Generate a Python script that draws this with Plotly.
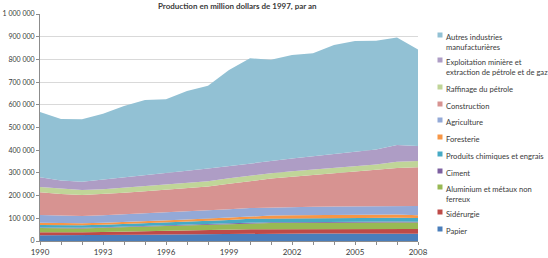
import plotly.graph_objects as go

years = list(range(1990, 2009))

# values in thousands of 1997 dollars
papier = [25, 25, 25, 26, 27, 28, 29, 30, 31, 32, 33, 33, 33, 33, 33, 33, 33, 33, 32]
siderurgie = [14, 13, 13, 14, 15, 16, 16, 17, 17, 18, 19, 19, 19, 20, 20, 20, 20, 21, 21]
aluminium = [18, 17, 17, 18, 19, 20, 21, 22, 23, 24, 26, 27, 27, 27, 27, 28, 28, 28, 28]
ciment = [3, 3, 3, 3, 3, 3, 3, 3, 4, 4, 4, 4, 4, 4, 4, 4, 4, 4, 4]
chimiques = [11, 11, 11, 11, 11, 12, 13, 13, 14, 15, 16, 16, 16, 16, 16, 16, 16, 16, 16]
foresterie = [9, 9, 9, 8, 8, 8, 9, 10, 10, 11, 12, 13, 14, 14, 15, 14, 15, 15, 12]
agriculture = [35, 34, 32, 33, 34, 35, 36, 36, 36, 36, 35, 36, 37, 37, 37, 38, 37, 37, 41]
construction = [100, 95, 93, 94, 96, 97, 98, 101, 105, 112, 120, 127, 133, 140, 147, 153, 160, 168, 171]
raffinage = [23, 23, 22, 21, 22, 22, 22, 22, 23, 24, 24, 24, 24, 24, 24, 24, 24, 27, 27]
exploitation = [43, 36, 36, 42, 47, 49, 51, 55, 56, 54, 55, 54, 56, 58, 60, 63, 66, 74, 66]
autres = [287, 271, 275, 291, 313, 331, 327, 352, 365, 423, 461, 445, 456, 454, 480, 488, 479, 474, 426]

series = [
    ("Papier", papier, "#4A7EBB"),
    ("Sidérurgie", siderurgie, "#BE4B48"),
    ("Aluminium et métaux non<br>ferreux", aluminium, "#98B954"),
    ("Ciment", ciment, "#7D60A0"),
    ("Produits chimiques et engrais", chimiques, "#46AAC5"),
    ("Foresterie", foresterie, "#F79646"),
    ("Agriculture", agriculture, "#93A9D7"),
    ("Construction", construction, "#D79391"),
    ("Raffinage du pétrole", raffinage, "#C0D598"),
    ("Exploitation minière et<br>extraction de pétrole et de gaz", exploitation, "#AE9DC5"),
    ("Autres industries<br>manufacturières", autres, "#92C1D4"),
]

# legend rows (pixel y of first line), top to bottom = reversed series
legend_y = [229, 212, 187, 171, 154, 137, 120, 104, 87, 60, 35]

W, H = 548, 258
L, R, T, B = 40, 130, 14, 17
pw, ph = W - L - R, H - T - B

fig = go.Figure()
for name, vals, col in series:
    fig.add_trace(go.Scatter(
        x=years, y=[v * 1000 for v in vals], name=name.replace("<br>", " "),
        mode="lines", stackgroup="one", line=dict(width=0, color=col),
        fillcolor=col, showlegend=False))

txtcol = "#3A3A3A"
for (name, vals, col), py in zip(series, legend_y):
    yc = (H - B - py) / ph
    xm = (440 - L) / pw
    fig.add_shape(type="rect", xref="paper", yref="paper",
                  x0=xm - 2.5 / pw, x1=xm + 2.5 / pw,
                  y0=yc - 2.5 / ph, y1=yc + 2.5 / ph,
                  fillcolor=col, line=dict(width=0))
    fig.add_annotation(xref="paper", yref="paper", x=(444 - L) / pw,
                       y=yc + 5.5 / ph, xanchor="left", yanchor="top",
                       text=name, showarrow=False, align="left",
                       font=dict(family="Lato", size=7.6, color=txtcol))

fig.update_layout(
    width=W, height=H,
    margin=dict(l=L, r=R, t=T, b=B, autoexpand=False),
    paper_bgcolor="white", plot_bgcolor="white",
    font=dict(family="Lato", size=8, color=txtcol),
    separators=", ",
    showlegend=False,
    title=dict(text="<b>Production en million dollars de 1997, par an</b>",
               x=0.433, xanchor="center", y=0.975, yanchor="middle",
               font=dict(family="Lato", size=8, color=txtcol)),
)
fig.update_xaxes(range=[1990, 2008], tickvals=list(range(1990, 2009, 3)),
                 ticks="outside", ticklen=3, tickcolor="#8C8C8C", automargin=False,
                 showline=True, linecolor="#8C8C8C", showgrid=False,
                 minor=dict(dtick=1, tick0=1990, ticks="outside", ticklen=3, tickcolor="#8C8C8C"),
                 tickfont=dict(family="Lato", size=8, color=txtcol))
fig.update_yaxes(range=[0, 1000000], dtick=100000, tickformat=",d", automargin=False,
                 showgrid=True, gridcolor="#D9D9D9", gridwidth=1,
                 showline=True, linecolor="#8C8C8C", ticks="outside", ticklen=3,
                 tickcolor="#8C8C8C", tickfont=dict(family="Lato", size=7, color=txtcol))

fig.write_html("out.html", config={"displayModeBar": False},
               post_script="document.body.style.margin = '0';")
